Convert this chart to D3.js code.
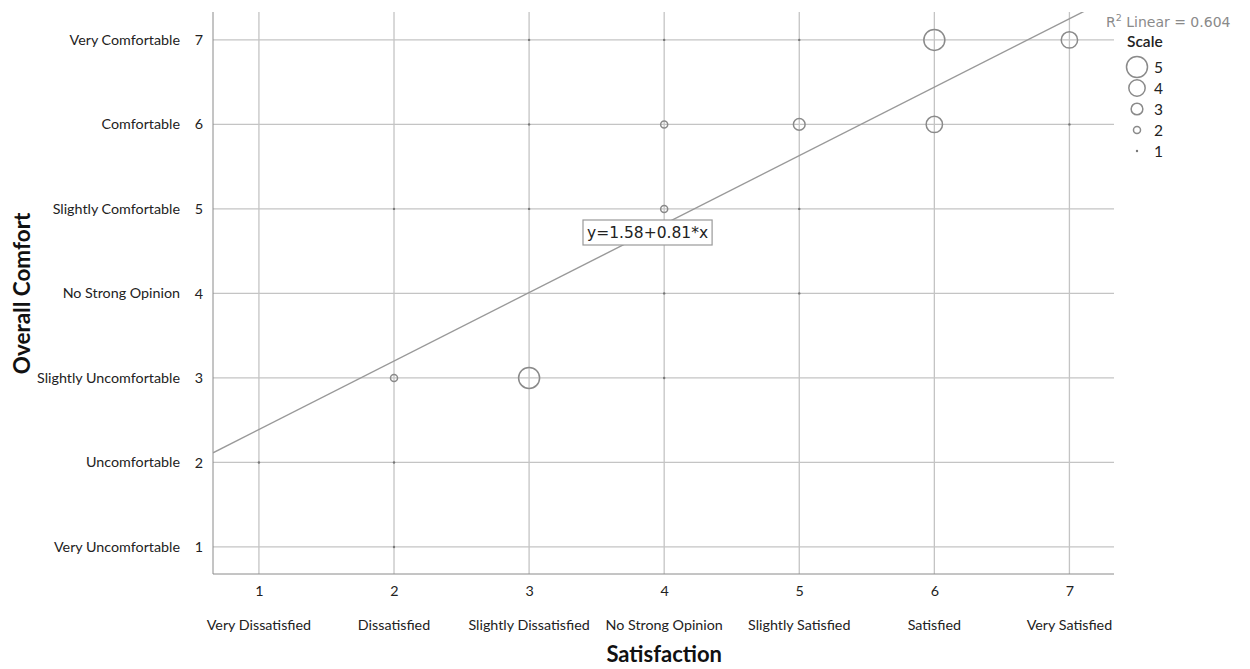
<!DOCTYPE html>
<html><head><meta charset="utf-8">
<script src="https://cdn.jsdelivr.net/npm/d3@7"></script>
<style>
body{margin:0;background:#fff;}
svg{font-family:Lato, "Liberation Sans", sans-serif;}
</style></head>
<body><svg id="chart" width="1250" height="669"></svg>
<script>
// ---- data ----
const satisfactionLabels = ["Very Dissatisfied","Dissatisfied","Slightly Dissatisfied","No Strong Opinion","Slightly Satisfied","Satisfied","Very Satisfied"];
const comfortLabels = ["Very Uncomfortable","Uncomfortable","Slightly Uncomfortable","No Strong Opinion","Slightly Comfortable","Comfortable","Very Comfortable"];
const tickValues = [1,2,3,4,5,6,7];
const pointX =     [3,4,5,6,7, 3,4,5,6,7, 2,3,4,5, 4,5, 2,3,4, 1,2, 2];
const pointY =     [7,7,7,7,7, 6,6,6,6,6, 5,5,5,5, 4,4, 3,3,3, 2,2, 1];
const pointCount = [1,1,1,5,4, 1,2,3,4,1, 1,1,2,1, 1,1, 2,5,1, 1,1, 1];
const legendSizes = [5,4,3,2,1];
const intercept = 1.58, slope = 0.81;
const rSquared = "0.604";

// ---- layout ----
const svg = d3.select("#chart");
const L = 213, R = 1114, T = 12, B = 574;
const x = d3.scaleLinear().domain([0.66, 7.33]).range([L, R]);
const y = d3.scaleLinear().domain([0.68, 7.33]).range([B, T]);
const rScale = d3.scaleLinear().domain([1,5]).range([1.2,10.5]);
const gridColor = "#c4c4c4";
const labelSize = 14.3;

// grid
svg.append("g").selectAll("line.v").data(tickValues).join("line")
  .attr("x1", d=>x(d)).attr("x2", d=>x(d)).attr("y1", T).attr("y2", B)
  .attr("stroke", gridColor).attr("stroke-width", 1.3);
svg.append("g").selectAll("line.h").data(tickValues).join("line")
  .attr("x1", L).attr("x2", R).attr("y1", d=>y(d)).attr("y2", d=>y(d))
  .attr("stroke", gridColor).attr("stroke-width", 1.3);

// axes
const xAxis = d3.axisBottom(x).tickValues(tickValues).tickSize(0).tickPadding(12).tickFormat(d3.format("d"));
const gx = svg.append("g").attr("transform", `translate(0,${B})`).call(xAxis);
gx.select(".domain").attr("stroke", "#8a8a8a").attr("d", `M${L},0H${R}`);
gx.selectAll("text").style("font-size", labelSize + "px").attr("fill", "#222").style("font-family", "Lato");

const yAxis = d3.axisLeft(y).tickValues(tickValues).tickSize(0).tickPadding(10).tickFormat(d3.format("d"));
const gy = svg.append("g").attr("transform", `translate(${L},0)`).call(yAxis);
gy.select(".domain").attr("stroke", "#8a8a8a").attr("d", `M0,${T}V${B}`);
gy.selectAll("text").style("font-size", labelSize + "px").attr("fill", "#222").style("font-family", "Lato");

// category labels
svg.append("g").selectAll("text").data(tickValues).join("text")
  .attr("x", d=>x(d)).attr("y", 630).attr("text-anchor", "middle")
  .style("font-size", labelSize + "px").attr("fill", "#222")
  .text(d=>satisfactionLabels[d-1]);
svg.append("g").selectAll("text").data(tickValues).join("text")
  .attr("x", 180).attr("y", d=>y(d)+5).attr("text-anchor", "end")
  .style("font-size", labelSize + "px").attr("fill", "#222")
  .text(d=>comfortLabels[d-1]);

// axis titles
svg.append("text").attr("x", x(4)).attr("y", 662).attr("text-anchor", "middle")
  .style("font-size", "22px").attr("font-weight", "bold").attr("fill", "#111").text("Satisfaction");
svg.append("text").attr("transform", `translate(30,${y(4)}) rotate(-90)`).attr("text-anchor", "middle")
  .style("font-size", "22.5px").attr("font-weight", "bold").attr("fill", "#111").text("Overall Comfort");

// regression line (clipped)
svg.append("clipPath").attr("id", "plotClip").append("rect")
  .attr("x", L).attr("y", T).attr("width", R-L).attr("height", B-T);
const x0 = x.domain()[0], x1 = x.domain()[1];
svg.append("line").attr("clip-path", "url(#plotClip)")
  .attr("x1", x(x0)).attr("y1", y(intercept + slope*x0))
  .attr("x2", x(x1)).attr("y2", y(intercept + slope*x1))
  .attr("stroke", "#999").attr("stroke-width", 1.4);

// points
const pts = pointX.map((d,i)=>({x:d, y:pointY[i], n:pointCount[i]}));
svg.append("g").selectAll("circle").data(pts).join("circle")
  .attr("cx", d=>x(d.x)).attr("cy", d=>y(d.y)).attr("r", d=>rScale(d.n))
  .attr("fill", d=>d.n===1 ? "#777" : "none")
  .attr("stroke", d=>d.n===1 ? "none" : "#8a8a8a").attr("stroke-width", 1.5);

// equation box
const eq = svg.append("g");
const eqText = eq.append("text").attr("x", 587).attr("y", 238)
  .style("font-family", "'DejaVu Sans'").style("font-size", "15.5px").attr("fill", "#222")
  .text(`y=${intercept}+${slope}*x`);
const bb = eqText.node().getBBox();
eq.insert("rect", "text").attr("x", bb.x-4).attr("y", 220).attr("width", bb.width+8).attr("height", 25)
  .attr("fill", "#fff").attr("stroke", "#999").attr("stroke-width", 1.2);

// R^2 label
const r2 = svg.append("text").attr("x", 1106).attr("y", 27).style("font-family", "'DejaVu Sans'")
  .style("font-size", "14px").attr("fill", "#8a8a8a");
r2.append("tspan").text("R");
r2.append("tspan").attr("dy", -6).style("font-size", "9.5px").text("2");
r2.append("tspan").attr("dy", 6).text(" Linear = " + rSquared);

// size legend
svg.append("text").attr("x", 1127).attr("y", 47).style("font-size", "15.5px").attr("font-weight", 600).attr("fill", "#222").text("Scale");
const lg = svg.append("g").selectAll("g").data(legendSizes).join("g")
  .attr("transform", (d,i)=>`translate(1137,${67 + i*21})`);
lg.append("circle").attr("r", d=>rScale(d))
  .attr("fill", d=>d===1 ? "#777" : "none")
  .attr("stroke", d=>d===1 ? "none" : "#8a8a8a").attr("stroke-width", 1.5);
lg.append("text").attr("x", 17).attr("y", 5.5).style("font-size", "15.5px").attr("fill", "#222").text(d=>d);
</script></body></html>
